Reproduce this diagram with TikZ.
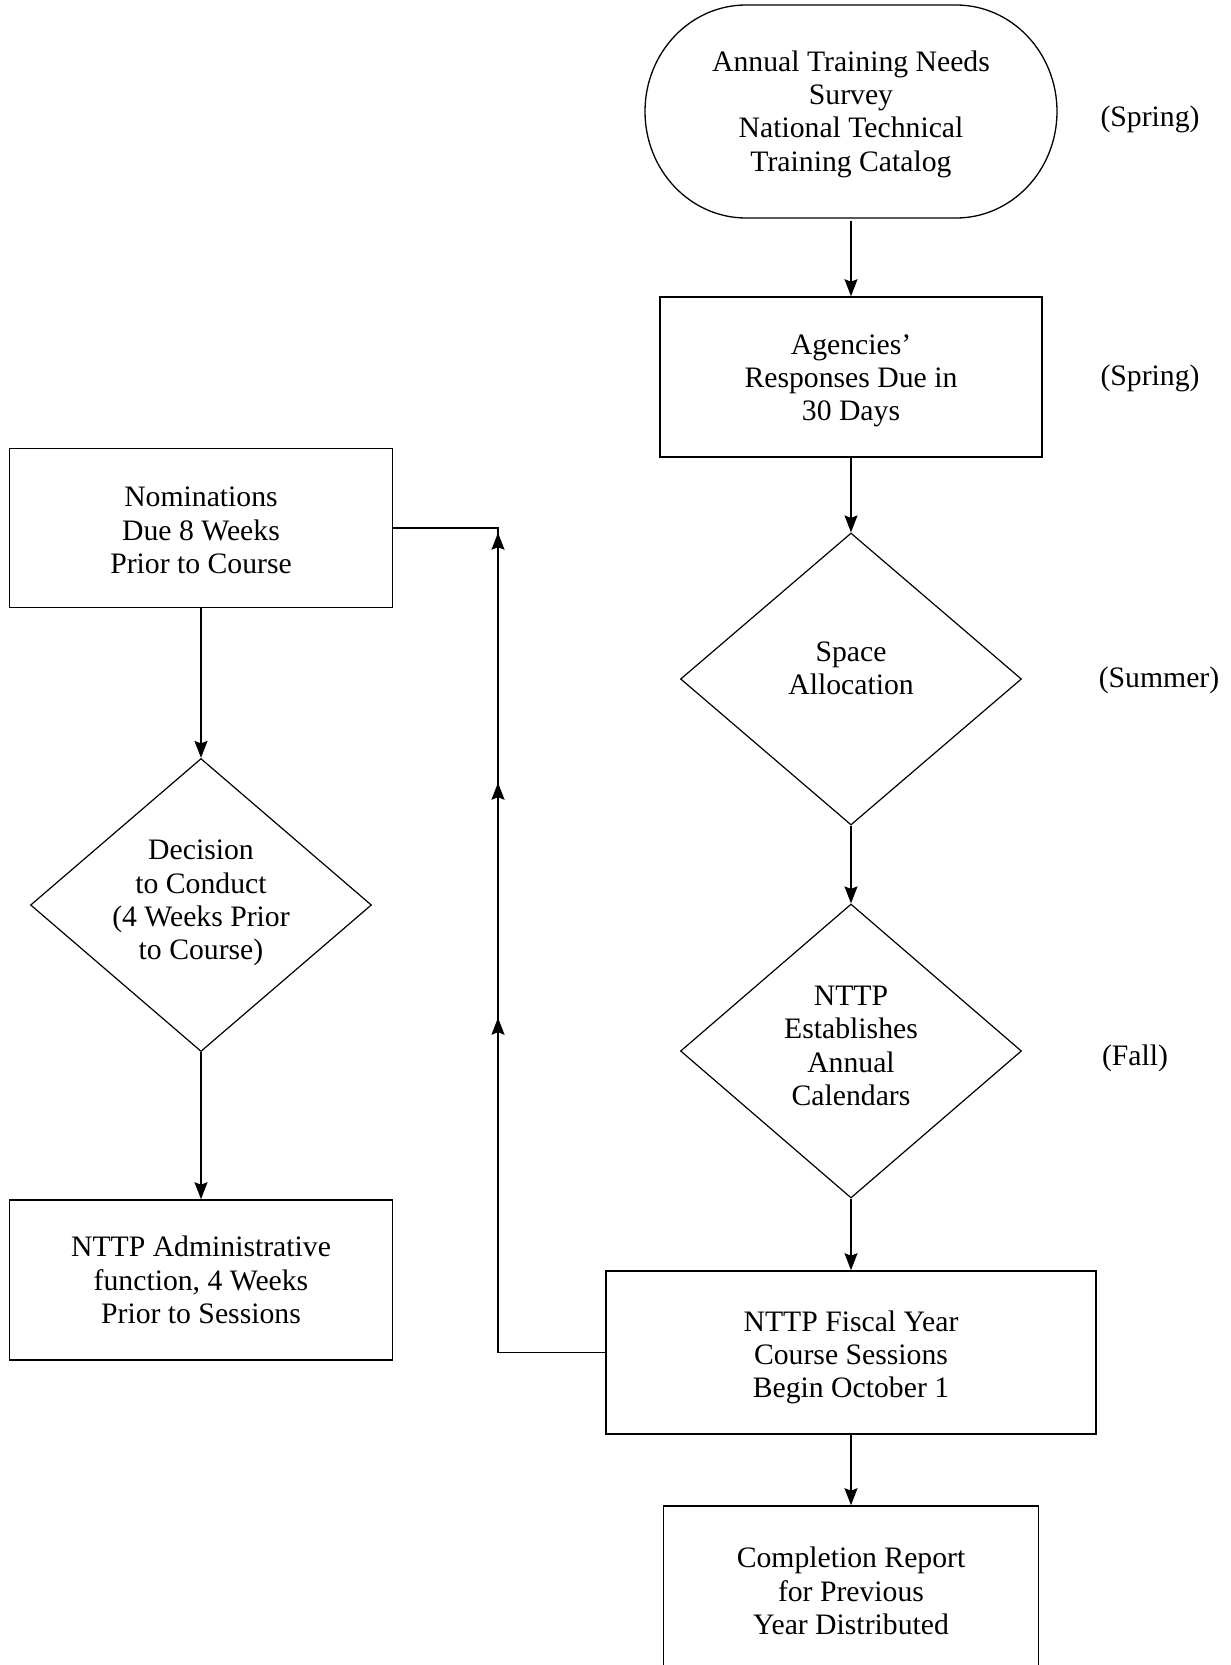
\documentclass[tikz,border=0pt]{standalone}
\usepackage{fontspec}
\setmainfont{Liberation Serif}
\usetikzlibrary{shapes.geometric,arrows.meta,decorations.markings}
\begin{document}
\begin{tikzpicture}[x=1pt,y=-1pt,
  every node/.style={font=\fontsize{29.7}{33.3}\selectfont, align=center, inner sep=0pt},
  boxnode/.style={draw, rectangle, line width=1.6pt},
  dianode/.style={draw, diamond, line width=1.2pt},
  tip/.style={},
  conn/.style={line width=1.5pt, -{Stealth[length=17pt,width=13pt,inset=2.5pt]}},
  fbline/.style={line width=1.5pt},
  upmark/.style={postaction=decorate, decoration={markings,
     mark=at position 442pt with {\arrow{Stealth[length=17pt,width=13pt,inset=2.5pt]}},
     mark=at position 677pt with {\arrow{Stealth[length=17pt,width=13pt,inset=2.5pt]}},
     mark=at position 927pt with {\arrow{Stealth[length=17pt,width=13pt,inset=2.5pt]}}}}
]
\useasboundingbox (0,0) rectangle (1231,1665);
\clip (0,0) rectangle (1231,1665);

% right column
\node[minimum width=412, minimum height=213, yshift=-2.5pt] (survey) at (851,111.5)
  {Annual Training Needs\\Survey\\National Technical\\Training Catalog};
\draw[line width=1.3pt] (746,5) -- (956,5)
  arc[start angle=-90, end angle=90, x radius=101, y radius=106.5]
  -- (746,218)
  arc[start angle=90, end angle=270, x radius=101, y radius=106.5] -- cycle;

\node[boxnode, minimum width=382, minimum height=160,
  label={[name=agencytext, yshift=-4pt]center:{Agencies’\\Responses Due in\\30 Days}}]
  (agency) at (851,377) {};
\node[dianode, minimum width=341, minimum height=292,
  label={[name=spacetext, yshift=11pt]center:{Space\\Allocation}}]
  (space) at (851,679) {};
\node[dianode, minimum width=341, minimum height=294,
  label={[name=caltext, yshift=5pt]center:{NTTP\\Establishes\\Annual\\Calendars}}]
  (cal) at (851,1051) {};
\node[boxnode, minimum width=490, minimum height=163,
  label={[name=fiscaltext, yshift=-5pt]center:{NTTP Fiscal Year\\Course Sessions\\Begin October 1}}]
  (fiscal) at (851,1352.5) {};
\node[boxnode, minimum width=375, minimum height=170] (report) at (851,1591)
  {Completion Report\\for Previous\\Year Distributed};

% season labels
\node (sp1) at (1150,119) {(Spring)};
\node (sp2) at (1150,378) {(Spring)};
\node (su) at (1159,680) {(Summer)};
\node (fa) at (1135,1058) {(Fall)};

% left column
\node[boxnode, minimum width=383, minimum height=159,
  label={[name=nomtext, yshift=-2.5pt]center:{Nominations\\Due 8 Weeks\\Prior to Course}}]
  (nom) at (201,528) {};
\node[dianode, minimum width=341, minimum height=293,
  label={[name=dectext, yshift=2pt]center:{Decision\\to Conduct\\(4 Weeks Prior\\to Course)}}]
  (dec) at (201,905) {};
\node[boxnode, minimum width=383, minimum height=160] (admin) at (201,1280)
  {NTTP Administrative\\function, 4 Weeks\\Prior to Sessions};

% connectors
\draw[conn] (survey.south) -- (agency.north);
\draw[conn] (agency.south) -- (space.north);
\draw[conn] (space.south) -- (cal.north);
\draw[conn] (cal.south) -- (fiscal.north);
\draw[conn] (fiscal.south) -- (report.north);
\draw[conn] (nom.south) -- (dec.north);
\draw[conn] (dec.south) -- (admin.north);

\coordinate (fbtop) at (498,528);
\draw[fbline, upmark] (fiscal.west) -| (fbtop) -- (nom.east);
\end{tikzpicture}
\end{document}
